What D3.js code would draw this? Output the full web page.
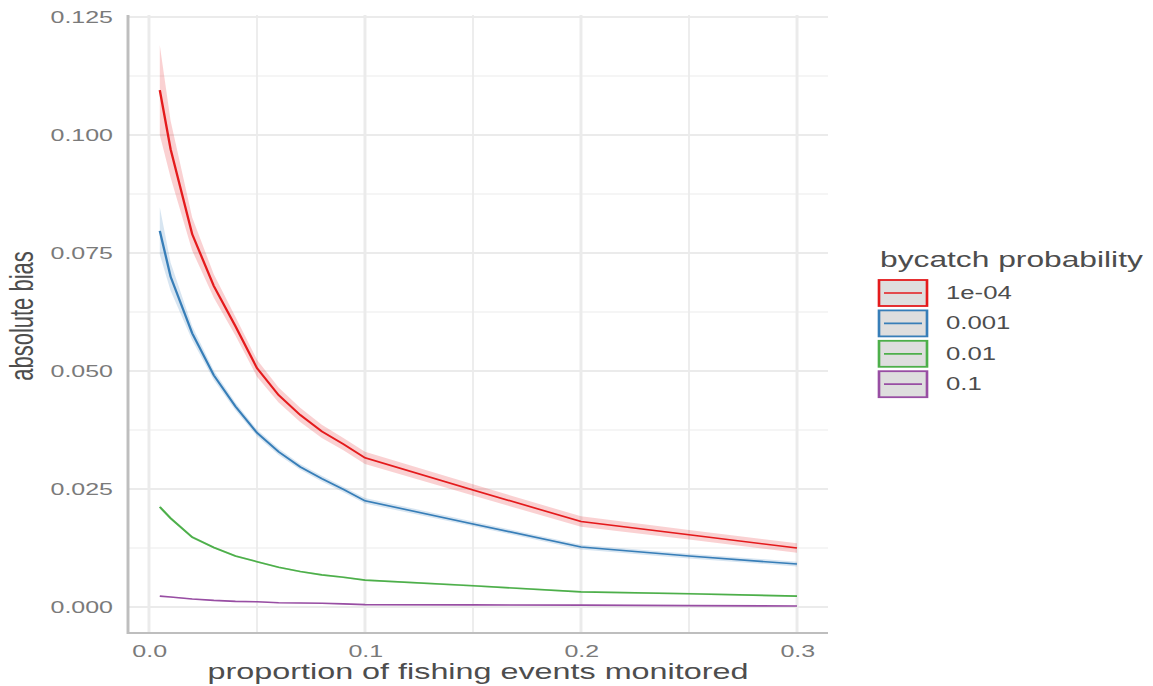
<!DOCTYPE html>
<html>
<head>
<meta charset="utf-8">
<script src="https://cdn.jsdelivr.net/npm/d3@7"></script>
<style>
body { margin: 0; background: #fff; }
svg { display: block; }
</style>
</head>
<body>
<script>
// values
var proportion = [0.005, 0.01, 0.02, 0.03, 0.04, 0.05, 0.06, 0.07, 0.08, 0.09, 0.1, 0.15, 0.2, 0.25, 0.3];

var bias1e4 = [0.1095, 0.097, 0.079, 0.068, 0.0595, 0.0506, 0.0449, 0.0407, 0.0372, 0.0345, 0.0316, 0.0248, 0.0181, 0.0153, 0.0125];
var bias1e3 = [0.0797, 0.070, 0.058, 0.0491, 0.0425, 0.0369, 0.0329, 0.0297, 0.0272, 0.0249, 0.0225, 0.0176, 0.0127, 0.0108, 0.0091];
var bias1e2 = [0.0212, 0.0188, 0.0148, 0.0126, 0.0108, 0.0096, 0.0084, 0.0075, 0.0068, 0.0063, 0.0057, 0.0045, 0.0032, 0.0028, 0.0023];
var bias1e1 = [0.0023, 0.0021, 0.0017, 0.0014, 0.0012, 0.0011, 0.0009, 0.00085, 0.0008, 0.00065, 0.0005, 0.00045, 0.0004, 0.0003, 0.0002];

// half width of the ribbons
var band1e4 = [0.0095, 0.006, 0.0035, 0.0025, 0.002, 0.0018, 0.0016, 0.0015, 0.0014, 0.0013, 0.0013, 0.0012, 0.0011, 0.001, 0.001];
var band1e3 = [0.005, 0.003, 0.0015, 0.001, 0.0008, 0.0007, 0.0007, 0.0006, 0.0006, 0.0006, 0.0006, 0.0005, 0.0005, 0.0005, 0.0005];
var band1e2 = [0.0004, 0.0003, 0.0003, 0.0002, 0.0002, 0.0002, 0.0002, 0.0002, 0.0002, 0.0002, 0.0002, 0.0002, 0.0002, 0.0002, 0.0002];
var band1e1 = [0.0001, 0.0001, 0.0001, 0.0001, 0.0001, 0.0001, 0.0001, 0.0001, 0.0001, 0.0001, 0.0001, 0.0001, 0.0001, 0.0001, 0.0001];

var seriesNames = ["1e-04", "0.001", "0.01", "0.1"];
var seriesColors = ["#E41A1C", "#377EB8", "#4DAF4A", "#984EA3"];
var seriesBias = [bias1e4, bias1e3, bias1e2, bias1e1];
var seriesBand = [band1e4, band1e3, band1e2, band1e1];

var xTicks = [0, 0.1, 0.2, 0.3];
var xMinor = [0.05, 0.15, 0.25];
var yTicks = [0, 0.025, 0.05, 0.075, 0.1, 0.125];
var yMinor = [0.0125, 0.0375, 0.0625, 0.0875, 0.1125];

var w = 1153;
var h = 686;
var sx = 1.47; // the picture is stretched sideways, so draw narrow and stretch
var vw = w / sx;

// panel edges, in screen px ("top" is taken by window.top)
var padLeft = 128, padRight = 828, padTop = 15, padBottom = 633;

var svg = d3.select("body").append("svg")
	.attr("width", w)
	.attr("height", h)
	.attr("viewBox", "0 0 " + vw + " " + h)
	.attr("preserveAspectRatio", "none")
	.style("font-family", "'Liberation Sans', Arial, sans-serif");

var x = d3.scaleLinear()
	.domain([-0.00972, 0.31435])
	.range([padLeft / sx, padRight / sx]);

var y = d3.scaleLinear()
	.domain([-0.00551, 0.12542])
	.range([padBottom, padTop]);

// grid
var grid = svg.append("g");

grid.selectAll("line.ymin")
	.data(yMinor)
	.enter()
	.append("line")
	.attr("x1", padLeft / sx)
	.attr("x2", padRight / sx)
	.attr("y1", function(d) { return y(d); })
	.attr("y2", function(d) { return y(d); })
	.attr("stroke", "#EBEBEB")
	.attr("stroke-width", 1.2);

grid.selectAll("line.xmin")
	.data(xMinor)
	.enter()
	.append("line")
	.attr("y1", padTop)
	.attr("y2", padBottom)
	.attr("x1", function(d) { return x(d); })
	.attr("x2", function(d) { return x(d); })
	.attr("stroke", "#EBEBEB")
	.attr("stroke-width", 1.2);

grid.selectAll("line.ymaj")
	.data(yTicks)
	.enter()
	.append("line")
	.attr("x1", padLeft / sx)
	.attr("x2", padRight / sx)
	.attr("y1", function(d) { return y(d); })
	.attr("y2", function(d) { return y(d); })
	.attr("stroke", "#EBEBEB")
	.attr("stroke-width", 2);

grid.selectAll("line.xmaj")
	.data(xTicks)
	.enter()
	.append("line")
	.attr("y1", padTop)
	.attr("y2", padBottom)
	.attr("x1", function(d) { return x(d); })
	.attr("x2", function(d) { return x(d); })
	.attr("stroke", "#EBEBEB")
	.attr("stroke-width", 2);

// ribbons then lines
seriesBias.forEach(function(bias, k) {
	var band = seriesBand[k];

	var area = d3.area()
		.x(function(d, i) { return x(proportion[i]); })
		.y0(function(d, i) { return y(d - band[i]); })
		.y1(function(d, i) { return y(d + band[i]); });

	svg.append("path")
		.datum(bias)
		.attr("d", area)
		.attr("fill", seriesColors[k])
		.attr("fill-opacity", 0.2);
});

seriesBias.forEach(function(bias, k) {
	var line = d3.line()
		.x(function(d, i) { return x(proportion[i]); })
		.y(function(d) { return y(d); });

	svg.append("path")
		.datum(bias)
		.attr("d", line)
		.attr("fill", "none")
		.attr("stroke", seriesColors[k])
		.attr("stroke-width", 1.6);
});

// axes
var yAxis = svg.append("g")
	.attr("transform", "translate(" + (padLeft / sx) + ",0)")
	.call(d3.axisLeft(y).tickValues(yTicks).tickFormat(d3.format(".3f")).tickSize(0).tickPadding(15 / sx));

var xAxis = svg.append("g")
	.attr("transform", "translate(0," + padBottom + ")")
	.call(d3.axisBottom(x).tickValues(xTicks).tickFormat(d3.format(".1f")).tickSize(0).tickPadding(12));

[yAxis, xAxis].forEach(function(a) {
	a.select(".domain").remove();
	a.selectAll("text")
		.attr("font-family", "'Liberation Sans', Arial, sans-serif")
		.attr("font-size", "17px")
		.attr("fill", "#7A7A7A");
});

svg.append("line")
	.attr("x1", padLeft / sx)
	.attr("x2", padLeft / sx)
	.attr("y1", padTop)
	.attr("y2", padBottom + 1)
	.attr("stroke", "#BEBEBE")
	.attr("stroke-width", 2);

svg.append("line")
	.attr("x1", padLeft / sx)
	.attr("x2", padRight / sx)
	.attr("y1", padBottom)
	.attr("y2", padBottom)
	.attr("stroke", "#BEBEBE")
	.attr("stroke-width", 2);

// axis titles
svg.append("text")
	.text("proportion of fishing events monitored")
	.attr("x", (padLeft + padRight) / 2 / sx)
	.attr("y", 679)
	.attr("text-anchor", "middle")
	.attr("font-size", "22px")
	.attr("fill", "#4D4D4D");

svg.append("text")
	.text("absolute bias")
	.attr("transform", "translate(" + (33 / sx) + "," + 316 + ") rotate(-90)")
	.attr("text-anchor", "middle")
	.attr("font-size", "22px")
	.attr("fill", "#4D4D4D");

// legend
var legend = svg.append("g");

legend.append("text")
	.text("bycatch probability")
	.attr("x", 880 / sx)
	.attr("y", 267)
	.attr("font-size", "21.6px")
	.attr("fill", "#4D4D4D");

var keys = legend.selectAll("g.key")
	.data(seriesNames)
	.enter()
	.append("g")
	.attr("transform", function(d, i) {
		return "translate(" + (878 / sx) + "," + (279 + i * 30.4) + ")";
	});

keys.append("rect")
	.attr("x", 1 / sx)
	.attr("y", 1)
	.attr("width", 48 / sx)
	.attr("height", 26)
	.attr("fill", "#DEDEDE")
	.attr("stroke", function(d, i) { return seriesColors[i]; })
	.attr("stroke-width", 1.8);

keys.append("line")
	.attr("x1", 6 / sx)
	.attr("x2", 44 / sx)
	.attr("y1", 14)
	.attr("y2", 14)
	.attr("stroke", function(d, i) { return seriesColors[i]; })
	.attr("stroke-width", 1.7);

keys.append("text")
	.text(function(d) { return d; })
	.attr("x", 68 / sx)
	.attr("y", 20)
	.attr("font-size", "17.5px")
	.attr("fill", "#4D4D4D");
</script>
</body>
</html>
